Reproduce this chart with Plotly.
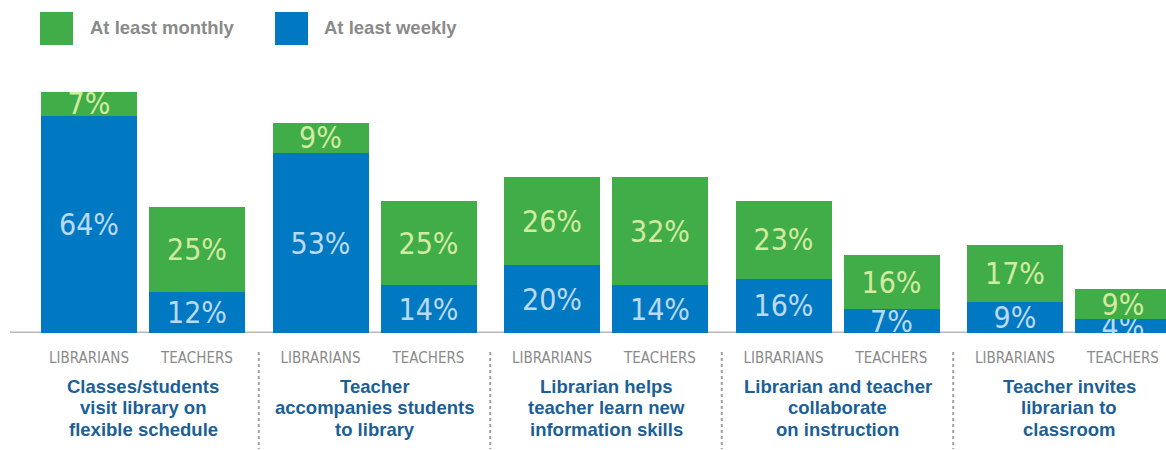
import plotly.graph_objects as go

# ---- data ----
groups = [
    ["Classes/students", "visit library on", "flexible schedule"],
    ["Teacher", "accompanies students", "to library"],
    ["Librarian helps", "teacher learn new", "information skills"],
    ["Librarian and teacher", "collaborate", "on instruction"],
    ["Teacher invites", "librarian to", "classroom"],
]
roles = ["LIBRARIANS", "TEACHERS"]
weekly_librarians = [64, 53, 20, 16, 9]
weekly_teachers = [12, 14, 14, 7, 4]
monthly_librarians = [7, 9, 26, 23, 17]
monthly_teachers = [25, 25, 32, 16, 9]
series_names = ["At least weekly", "At least monthly"]

# ---- styling / layout ----
W, H = 1166, 450
GREEN = "#41ad49"
BLUE = "#0079c2"
GREEN_TXT = "#d3eba0"
BLUE_TXT = "#bcd9f2"
GRAY = "#8a8a8a"
TITLE_BLUE = "#1c5f96"
PX_PER_UNIT = 108.0
GROUP_STEP = 231.5 / PX_PER_UNIT
BAR_W = 96 / PX_PER_UNIT
FIRST_CENTER_PX = 89
PLOT_TOP, PLOT_BOTTOM = 70, 333
Y_MAX = 77.5

xs, weekly, monthly, ticktext = [], [], [], []
for g in range(len(groups)):
    for r, role in enumerate(roles):
        xs.append(g * GROUP_STEP + r)
        ticktext.append(role)
    weekly += [weekly_librarians[g], weekly_teachers[g]]
    monthly += [monthly_librarians[g], monthly_teachers[g]]

label_font = "Liberation Sans Narrow, DejaVu Sans Condensed, Arial Narrow, sans-serif"
bold_font = "Liberation Sans, Arial, sans-serif"
LABEL_SIZE = 30

fig = go.Figure()
fig.add_trace(go.Bar(
    x=xs, y=weekly, name=series_names[0], width=BAR_W,
    marker=dict(color=BLUE, line=dict(width=0)),
    texttemplate="%{y}%", textposition="inside", insidetextanchor="middle",
    textangle=0, constraintext="none",
    textfont=dict(family=label_font, size=LABEL_SIZE, color=BLUE_TXT),
    hoverinfo="skip",
))
fig.add_trace(go.Bar(
    x=xs, y=monthly, name=series_names[1], width=BAR_W,
    marker=dict(color=GREEN, line=dict(width=0)),
    texttemplate="%{y}%", textposition="inside", insidetextanchor="middle",
    textangle=0, constraintext="none",
    textfont=dict(family=label_font, size=LABEL_SIZE, color=GREEN_TXT),
    hoverinfo="skip",
))

x_min = -FIRST_CENTER_PX / PX_PER_UNIT
x_max = (W - FIRST_CENTER_PX) / PX_PER_UNIT
plot_h = PLOT_BOTTOM - PLOT_TOP

def py(pixel_y):
    return (PLOT_BOTTOM - pixel_y) / plot_h

def px(pixel_x):
    return pixel_x / W

shapes = []
# baseline
shapes.append(dict(type="line", xref="paper", yref="y", x0=px(10), x1=1, y0=0, y1=0,
                   line=dict(color="#b8b8b8", width=3), layer="below"))
# dotted separators between groups
for g in range(len(groups) - 1):
    xsep = g * GROUP_STEP + 1 + (GROUP_STEP - 1) / 2
    shapes.append(dict(type="line", xref="x", yref="paper", x0=xsep, x1=xsep,
                       y0=py(352), y1=py(449),
                       line=dict(color="#a0a0a0", width=2, dash="dot")))
# legend squares
legend_items = [(series_names[1], GREEN, 40, 88), (series_names[0], BLUE, 275, 322)]
annotations = []
for name, color, sx, tx in legend_items:
    shapes.append(dict(type="rect", xref="paper", yref="paper",
                       x0=px(sx), x1=px(sx + 33), y0=py(45), y1=py(12),
                       fillcolor=color, line=dict(width=0)))
    annotations.append(dict(xref="paper", yref="paper", x=px(tx), y=py(28),
                            xanchor="left", yanchor="middle", showarrow=False,
                            text="<b>" + name + "</b>",
                            font=dict(family=bold_font, size=18.5, color=GRAY)))

# group titles (one annotation per line for tighter line spacing)
LINE_Y = [386, 407.5, 429]
for g, lines in enumerate(groups):
    for li, line in enumerate(lines):
        annotations.append(dict(xref="x", yref="paper", x=g * GROUP_STEP + 0.5, y=py(LINE_Y[li]),
                                xanchor="center", yanchor="middle", showarrow=False,
                                text="<b>" + line + "</b>",
                                font=dict(family=bold_font, size=18.5, color=TITLE_BLUE)))

fig.update_layout(
    width=W, height=H,
    margin=dict(l=0, r=0, t=PLOT_TOP, b=H - PLOT_BOTTOM, pad=0),
    paper_bgcolor="white", plot_bgcolor="white",
    barmode="stack", showlegend=False,
    uniformtext=dict(minsize=LABEL_SIZE, mode="show"),
    xaxis=dict(range=[x_min, x_max], showgrid=False, zeroline=False, showline=False,
               tickmode="array", tickvals=xs, ticktext=ticktext, ticks="",
               ticklabelstandoff=14,
               tickfont=dict(family=label_font, size=15, color=GRAY)),
    yaxis=dict(range=[0, Y_MAX], showgrid=False, zeroline=False, showline=False,
               showticklabels=False, ticks=""),
    shapes=shapes, annotations=annotations,
)

fig.write_html("out.html", config={"displayModeBar": False},
               post_script="document.body.style.margin='0';")
